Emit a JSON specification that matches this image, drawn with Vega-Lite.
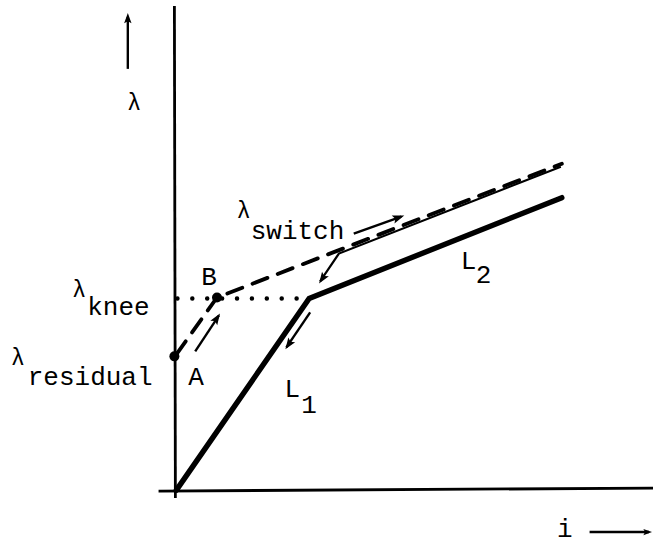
{
  "$schema": "https://vega.github.io/schema/vega-lite/v6.json",
  "autosize": {"type": "fit", "contains": "padding"},
  "width": 659,
  "height": 546,
  "padding": 0,
  "background": "white",
  "config": {"view": {"stroke": null}},
  "datasets": {
    "curves": [
      {"curve": "lambda_axis", "k": 0, "i": 0.0, "lam": 4.85},
      {"curve": "lambda_axis", "k": 1, "i": 0.01, "lam": -0.08},
      {"curve": "i_axis", "k": 0, "i": -0.16, "lam": -0.01},
      {"curve": "i_axis", "k": 1, "i": 4.83, "lam": 0.02},
      {"curve": "L", "k": 0, "i": 0.02, "lam": 0.0},
      {"curve": "L", "k": 1, "i": 1.36, "lam": 1.92},
      {"curve": "L", "k": 2, "i": 3.91, "lam": 2.93},
      {"curve": "loading", "k": 0, "i": 0.02, "lam": 1.36},
      {"curve": "loading", "k": 1, "i": 0.43, "lam": 1.93},
      {"curve": "loading", "k": 2, "i": 3.91, "lam": 3.27},
      {"curve": "return", "k": 0, "i": 3.9, "lam": 3.24},
      {"curve": "return", "k": 1, "i": 1.66, "lam": 2.37},
      {"curve": "return", "k": 2, "i": 1.47, "lam": 2.09},
      {"curve": "knee", "k": 0, "i": 0.03, "lam": 1.92},
      {"curve": "knee", "k": 1, "i": 1.34, "lam": 1.92},
      {"curve": "up_arrow", "k": 0, "i": -0.47, "lam": 4.22},
      {"curve": "up_arrow", "k": 1, "i": -0.47, "lam": 4.74},
      {"curve": "i_arrow", "k": 0, "i": 4.19, "lam": -0.42},
      {"curve": "i_arrow", "k": 1, "i": 4.79, "lam": -0.42},
      {"curve": "ab_arrow", "k": 0, "i": 0.21, "lam": 1.39},
      {"curve": "ab_arrow", "k": 1, "i": 0.45, "lam": 1.75},
      {"curve": "l1_arrow", "k": 0, "i": 1.37, "lam": 1.78},
      {"curve": "l1_arrow", "k": 1, "i": 1.13, "lam": 1.43},
      {"curve": "switch_arrow", "k": 0, "i": 1.81, "lam": 2.57},
      {"curve": "switch_arrow", "k": 1, "i": 2.29, "lam": 2.74}
    ],
    "heads": [
      {"arrow": "up", "i": -0.47, "lam": 4.78},
      {"arrow": "i", "i": 4.82, "lam": -0.42},
      {"arrow": "ab", "i": 0.46, "lam": 1.77},
      {"arrow": "l1", "i": 1.12, "lam": 1.41},
      {"arrow": "return", "i": 1.46, "lam": 2.07},
      {"arrow": "switch", "i": 2.32, "lam": 2.75}
    ],
    "states": [
      {"state": "A", "i": 0.0, "lam": 1.34},
      {"state": "B", "i": 0.43, "lam": 1.93}
    ],
    "lambdas": [
      {"i": -0.475, "lam": 3.81},
      {"i": -1.03, "lam": 1.93},
      {"i": -1.65, "lam": 1.25},
      {"i": 0.63, "lam": 2.73}
    ],
    "labels": [
      {"text": "knee", "i": -0.88, "lam": 1.75},
      {"text": "residual", "i": -1.48, "lam": 1.05},
      {"text": "switch", "i": 0.77, "lam": 2.52},
      {"text": "A", "i": 0.14, "lam": 1.05},
      {"text": "B", "i": 0.27, "lam": 2.05},
      {"text": "L", "i": 1.11, "lam": 0.93},
      {"text": "1", "i": 1.28, "lam": 0.77},
      {"text": "L", "i": 2.89, "lam": 2.22},
      {"text": "2", "i": 3.04, "lam": 2.07},
      {"text": "i", "i": 3.86, "lam": -0.47}
    ]
  },
  "encoding": {
    "x": {"field": "i", "type": "quantitative", "axis": null,
          "scale": {"domain": [-1.76, 4.83], "nice": false, "zero": false}},
    "y": {"field": "lam", "type": "quantitative", "axis": null,
          "scale": {"domain": [-0.56, 4.9], "nice": false, "zero": false}}
  },
  "layer": [
    {
      "data": {"name": "curves"},
      "transform": [{"filter": "datum.curve === 'lambda_axis' || datum.curve === 'i_axis'"}],
      "mark": {"type": "line", "color": "#000", "strokeWidth": 2.8},
      "encoding": {"detail": {"field": "curve"}, "order": {"field": "k"}}
    },
    {
      "data": {"name": "curves"},
      "transform": [{"filter": "datum.curve === 'L'"}],
      "mark": {"type": "line", "color": "#000", "strokeWidth": 5.4, "strokeJoin": "miter", "strokeCap": "round"},
      "encoding": {"order": {"field": "k"}}
    },
    {
      "data": {"name": "curves"},
      "transform": [{"filter": "datum.curve === 'loading'"}],
      "mark": {"type": "line", "color": "#000", "strokeWidth": 3.8, "strokeDash": [16, 11], "strokeCap": "round"},
      "encoding": {"order": {"field": "k"}}
    },
    {
      "data": {"name": "curves"},
      "transform": [{"filter": "datum.curve === 'return'"}],
      "mark": {"type": "line", "color": "#000", "strokeWidth": 2.2},
      "encoding": {"order": {"field": "k"}}
    },
    {
      "data": {"name": "curves"},
      "transform": [{"filter": "datum.curve === 'knee'"}],
      "mark": {"type": "line", "color": "#000", "strokeWidth": 4.4, "strokeDash": [0.1, 14.8], "strokeCap": "round"},
      "encoding": {"order": {"field": "k"}}
    },
    {
      "data": {"name": "curves"},
      "transform": [{"filter": "indexof(datum.curve, '_arrow') > 0"}],
      "mark": {"type": "line", "color": "#000", "strokeWidth": 2.4},
      "encoding": {"detail": {"field": "curve"}, "order": {"field": "k"}}
    },
    {
      "data": {"name": "heads"},
      "transform": [{"filter": "datum.arrow === 'up'"}],
      "mark": {"type": "point", "filled": true, "color": "#000", "opacity": 1, "size": 420, "angle": 0,
               "shape": "M0,0L0.36,1L0,0.8L-0.36,1Z"}
    },
    {
      "data": {"name": "heads"},
      "transform": [{"filter": "datum.arrow === 'i'"}],
      "mark": {"type": "point", "filled": true, "color": "#000", "opacity": 1, "size": 300, "angle": 90,
               "shape": "M0,0L0.36,1L0,0.8L-0.36,1Z"}
    },
    {
      "data": {"name": "heads"},
      "transform": [{"filter": "datum.arrow === 'ab'"}],
      "mark": {"type": "point", "filled": true, "color": "#000", "opacity": 1, "size": 520, "angle": 33,
               "shape": "M0,0L0.36,1L0,0.8L-0.36,1Z"}
    },
    {
      "data": {"name": "heads"},
      "transform": [{"filter": "datum.arrow === 'l1'"}],
      "mark": {"type": "point", "filled": true, "color": "#000", "opacity": 1, "size": 520, "angle": 214,
               "shape": "M0,0L0.36,1L0,0.8L-0.36,1Z"}
    },
    {
      "data": {"name": "heads"},
      "transform": [{"filter": "datum.arrow === 'return'"}],
      "mark": {"type": "point", "filled": true, "color": "#000", "opacity": 1, "size": 520, "angle": 214,
               "shape": "M0,0L0.36,1L0,0.8L-0.36,1Z"}
    },
    {
      "data": {"name": "heads"},
      "transform": [{"filter": "datum.arrow === 'switch'"}],
      "mark": {"type": "point", "filled": true, "color": "#000", "opacity": 1, "size": 560, "angle": 71,
               "shape": "M0,0L0.36,1L0,0.8L-0.36,1Z"}
    },
    {
      "data": {"name": "states"},
      "mark": {"type": "point", "shape": "circle", "filled": true, "color": "#000", "opacity": 1, "size": 100}
    },
    {
      "data": {"name": "lambdas"},
      "mark": {"type": "text", "font": "Liberation Mono", "fontSize": 23, "color": "#000",
               "align": "left", "baseline": "alphabetic"},
      "encoding": {"text": {"value": "λ"}}
    },
    {
      "data": {"name": "labels"},
      "mark": {"type": "text", "font": "Liberation Mono", "fontSize": 26, "color": "#000",
               "align": "left", "baseline": "alphabetic"},
      "encoding": {"text": {"field": "text"}}
    }
  ]
}
